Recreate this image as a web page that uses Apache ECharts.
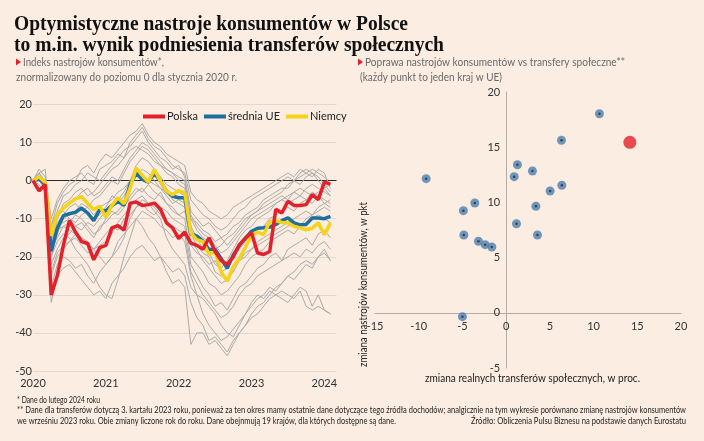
<!DOCTYPE html>
<html><head><meta charset="utf-8">
<script src="https://cdn.jsdelivr.net/npm/echarts/dist/echarts.min.js"></script>
<style>html,body{margin:0;padding:0;background:#fbede1}#c{width:704px;height:441px}</style>
</head><body><div id="c"></div>
<script>
// ---- left chart data: monthly index, Jan 2020 = index 0 ----
const yearLabels = ['2020','2021','2022','2023','2024'];
const polska = [0,-2.7,-1,-30,-25,-17,-10.5,-13.5,-16,-16.5, -20.8,-17.6,-17,-12.4,-11.8,-13,-5.9,-5.6,-6.5,-6.3, -5.9,-7.5,-11.1,-12.4,-15.2,-13.5,-16.4,-17,-18,-15, -18.6,-21,-22,-20,-16.8,-15.1,-13.7,-19,-19.4,-18.6, -7.5,-8.5,-5.4,-6.5,-6.5,-6.3,-3.7,-5,-0.4,-0.9];
const sredniaUE = [0,0.5,-1,-18.5,-12.5,-9.2,-8.7,-8.3,-7.2,-8.5, -10.5,-7.6,-8,-6.5,-5.4,-6.5,-1,2,0.3,-0.4, 2,-0.2,-2.8,-4.1,-4.5,-4.5,-14,-14.6,-15.9,-18.1, -18.1,-20.5,-23,-19.5,-17,-15.1,-13.3,-12.5,-12.4,-12.2, -11.5,-10.5,-9.8,-11.1,-11.6,-11.5,-9.8,-9.8,-10,-9.4];
const niemcy = [0,1,-0.5,-14.5,-8.9,-7.2,-5.9,-4.8,-4.2,-6, -7.6,-6.7,-9.6,-6.5,-4.5,-6.1,-2,3.3,1.4,-0.4, 2.9,-0.2,-2.8,-3.7,-2.6,-3.2,-13.7,-15.5,-16,-19.4, -18.6,-24,-26.4,-22.5,-20.5,-17.5,-14.2,-13.5,-14.2,-10.8, -10.5,-11,-11.1,-12,-12.4,-12.9,-12.5,-11.1,-14.2,-11.1];
const inneKraje = [
 [0,3,1,-10,-5,-2,0,1,2,0, -1,3,4,5,7,6,10,12,14,11, 9,8,6,4,3,2,-5,-7,-9,-10, -12,-13,-12,-10,-8,-7,-5,-4,-3,-2, -1,0,1,0,1,2,3,2,1,-1],
 [0,2,0,-12,-8,-4,-3,-1,0,2, 1,0,2,4,6,8,9,11,13,10, 8,6,5,3,4,1,-8,-10,-12,-11, -13,-15,-14,-12,-11,-9,-8,-7,-5,-4, -3,-2,-2,0,2,3,2,1,-1,-3],
 [0,1,-1,-15,-10,-6,-5,-3,-2,-4, -3,-1,1,3,4,6,8,9,8,7, 5,4,3,2,1,0,-10,-13,-15,-16, -18,-17,-15,-14,-12,-10,-9,-8,-7,-6, -5,-4,-5,-3,-2,-3,-4,-3,-2,-4],
 [0,0,-2,-20,-14,-10,-9,-8,-6,-7, -9,-7,-6,-5,-3,-2,0,2,1,0, -1,-2,-3,-5,-6,-7,-17,-19,-20,-22, -21,-24,-23,-20,-18,-16,-14,-13,-12,-10, -9,-8,-7,-8,-6,-5,-6,-4,-5,-6],
 [0,1,0,-17,-12,-11,-10,-12,-13,-11, -12,-10,-8,-7,-6,-4,-1,1,3,2, 0,-2,-4,-6,-5,-6,-14,-17,-19,-20, -24,-25,-26,-24,-21,-19,-18,-17,-16,-15, -14,-13,-12,-11,-12,-10,-9,-8,-7,-8],
 [0,0,-1,-22,-18,-15,-14,-12,-11,-13, -15,-12,-11,-9,-8,-6,-5,-3,-2,-4, -5,-3,-6,-8,-9,-10,-20,-22,-24,-27, -28,-30,-29,-27,-25,-22,-20,-19,-18,-16, -15,-14,-13,-14,-12,-11,-10,-9,-10,-11],
 [0,2,-1,-13,-9,-8,-10,-11,-9,-8, -10,-9,-7,-4,-5,-3,0,4,6,5, 3,1,-1,-2,-3,-4,-12,-15,-18,-19, -22,-23,-21,-18,-15,-13,-12,-10,-9,-8, -6,-5,-6,-5,-4,-5,-3,-4,-6,-5],
 [0,-1,-3,-25,-20,-18,-16,-15,-17,-19, -18,-16,-14,-12,-13,-10,-9,-7,-6,-8, -9,-7,-8,-10,-11,-12,-22,-25,-28,-30, -33,-32,-34,-31,-28,-27,-25,-23,-22,-20, -19,-21,-18,-17,-16,-15,-17,-14,-13,-15],
 [0,0,-2,-28,-22,-20,-21,-23,-22,-25, -27,-24,-22,-20,-16,-14,-12,-10,-8,-9, -10,-12,-13,-15,-14,-16,-25,-30,-35,-38, -40,-42,-41,-39,-37,-35,-33,-31,-30,-28, -29,-27,-25,-24,-22,-21,-22,-20,-18,-21],
 [0,1,-1,-32,-25,-23,-22,-24,-26,-28, -30,-29,-31,-27,-25,-23,-20,-18,-17,-19, -21,-20,-22,-24,-23,-25,-32,-36,-38,-42, -41,-43,-45,-42,-40,-38,-36,-35,-33,-31, -30,-29,-30,-31,-29,-33,-34,-33,-34,-35],
 [0,0,-1,-18,-15,-12,-13,-14,-15,-17, -18,-20,-22,-20,-18,-15,-10,-7,-5,-6, -8,-10,-15,-18,-20,-22,-28,-30,-31,-33, -35,-38,-40,-41,-38,-35,-32,-30,-31,-29, -30,-31,-32,-30,-28,-29,-33,-30,-34,-35],
 [0,0,-1,-20,-16,-14,-15,-18,-20,-22, -25,-28,-30,-31,-26,-20,-15,-10,-12,-15, -17,-20,-24,-27,-26,-28,-43,-40,-40,-43, -42,-44,-46,-43,-40,-38,-35,-33,-32,-30, -28,-27,-25,-26,-24,-22,-23,-20,-19,-21],
 [0,2,3,-12,-6,-3,-1,0,3,4, 2,5,7,6,8,10,12,13,15,12, 10,9,7,6,5,4,-3,-5,-6,-8, -9,-10,-9,-7,-6,-5,-4,-3,-2,-1, 0,1,2,1,3,2,1,3,2,-2],
 [0,1,0,-16,-11,-9,-7,-6,-8,-7, -5,-4,-2,0,-1,2,5,7,9,8, 6,4,2,1,-1,-2,-9,-12,-14,-15, -17,-19,-18,-16,-14,-12,-10,-9,-8,-7, -6,-5,-4,-3,-4,-2,-1,-2,-3,-4],
 [0,0,-2,-19,-13,-12,-11,-9,-10,-12, -14,-13,-10,-8,-9,-7,-4,-2,-3,-1, -3,-4,-6,-7,-9,-8,-16,-18,-21,-23, -25,-27,-26,-23,-21,-20,-18,-16,-15,-14, -13,-12,-11,-10,-9,-8,-9,-7,-6,-7],
 [0,1,-1,-14,-10,-7,-6,-5,-3,-2, -4,-3,-1,1,0,3,6,8,10,9, 7,5,3,2,0,-1,-10,-11,-13,-14, -16,-15,-17,-15,-13,-11,-9,-8,-6,-5, -4,-3,-1,0,-1,1,2,0,-2,-1],
 [0,0,-1,-24,-19,-17,-16,-14,-15,-16, -18,-17,-16,-14,-11,-9,-7,-5,-4,-6, -7,-9,-11,-12,-13,-14,-24,-27,-30,-32, -34,-36,-35,-33,-30,-28,-27,-25,-24,-23, -22,-21,-20,-19,-20,-18,-19,-17,-16,-18]
];
// ---- right chart data: one point per EU country ----
const transfery = [10.67,6.33,-9.15,1.29,3.01,0.92,5.03,6.37,-4.89,-3.58,3.40,1.18,-4.84,-3.17,-2.40,-1.64,3.58,-5.0];
const nastroje  = [18.03,15.63,12.15,13.41,12.84,12.33,11.03,11.55,9.25,9.95,9.65,8.07,7.05,6.48,6.17,5.96,7.05,-0.35];
const polskaTransfery = 14.15, polskaNastroje = 15.44;

const RED='#e3202b', BLUE='#1d6f9f', YELLOW='#f6d21a', GREY='#ababab';
const chart = echarts.init(document.getElementById('c'));
const mctx = document.createElement('canvas').getContext('2d');
function fitText(text, x, y, size, family, weight, width, color, extra) {
  const font = weight + ' ' + size + 'px ' + family;
  mctx.font = font;
  const w = mctx.measureText(text).width;
  return Object.assign({type:'text', x:x, y:y, scaleX: width / w, silent:true, z:100,
    style:{text:text, font:font, fill:color, align:'left', verticalAlign:'middle'}}, extra || {});
}
const toPts = arr => arr.map((v,i)=>[i,v]);
const series = [];
inneKraje.forEach((a,k)=>series.push({type:'line', xAxisIndex:0, yAxisIndex:0, data:toPts(a), showSymbol:false, silent:true,
  lineStyle:{color:GREY, width:1}, z:1}));
series.push({name:'średnia UE', type:'line', data:toPts(sredniaUE), showSymbol:false, lineStyle:{color:BLUE,width:3.5}, itemStyle:{color:BLUE}, z:3});
series.push({name:'Niemcy', type:'line', data:toPts(niemcy), showSymbol:false, lineStyle:{color:YELLOW,width:3.5}, itemStyle:{color:YELLOW}, z:4});
series.push({name:'Polska', type:'line', data:toPts(polska), showSymbol:false, lineStyle:{color:RED,width:3.5}, itemStyle:{color:RED}, z:5});
series.push({type:'scatter', xAxisIndex:1, yAxisIndex:1, data:transfery.map((x,i)=>[x,nastroje[i]]), symbolSize:9, itemStyle:{color:'#4f7eac'}, z:6});
series.push({type:'scatter', xAxisIndex:1, yAxisIndex:1, data:transfery.map((x,i)=>[x,nastroje[i]]), symbolSize:2.5, itemStyle:{color:'#16324f'}, z:7});
series.push({type:'scatter', xAxisIndex:1, yAxisIndex:1, data:[[polskaTransfery,polskaNastroje]], symbolSize:13, itemStyle:{color:RED}, z:8});

const splitColors = ['#e3d8cc','#e3d8cc','#e3d8cc','#e3d8cc','#e3d8cc','#2a2a2a','#e3d8cc','#e3d8cc'];
const lab = {fontFamily:'Lato', fontSize:11, color:'#333'};
const tri = (x,y)=>({type:'polygon', silent:true, shape:{points:[[x,y-3.5],[x+5,y],[x,y+3.5]]}, style:{fill:RED}});

// right grid and the offsets that put both axes through zero
const g2 = {left:375, top:92, width:306, height:276};
const rx = {min:-15, max:20}, ry = {min:-5, max:20};
const xOff = -((0 - ry.min) / (ry.max - ry.min)) * g2.height;
const yOff = -((0 - rx.min) / (rx.max - rx.min)) * g2.width;

chart.setOption({
  animation:false,
  backgroundColor:'#fbede1',
  legend:{data:['Polska','średnia UE','Niemcy'], left:143, top:111, padding:0, itemWidth:22, itemHeight:4, itemGap:6, icon:'rect',
    textStyle:{fontFamily:'Lato', fontSize:11, color:'#222', padding:[0,0,0,-3]}},
  grid:[{left:33, top:104.5, width:303.5, height:266.5}, g2],
  xAxis:[
    {gridIndex:0, type:'value', min:0, max:50, interval:12, axisLine:{show:false}, axisTick:{show:false}, splitLine:{show:false},
     axisLabel:Object.assign({margin:7, formatter:v=> (v%12===0 ? yearLabels[v/12] : '')}, lab)},
    {gridIndex:1, type:'value', min:rx.min, max:rx.max, interval:5, position:'bottom', offset:xOff,
     axisLine:{onZero:false, lineStyle:{color:'#b5aca4'}}, axisTick:{show:false}, splitLine:{show:false},
     axisLabel:Object.assign({margin:8, showMinLabel:true, showMaxLabel:true}, lab)}
  ],
  yAxis:[
    {gridIndex:0, type:'value', min:-50, max:20, interval:10, axisLine:{show:false}, axisTick:{show:false},
     splitLine:{lineStyle:{color:splitColors, width:1}}, axisLabel:Object.assign({margin:1, padding:[0,0,6,0]}, lab)},
    {gridIndex:1, type:'value', min:ry.min, max:ry.max, interval:5, position:'left', offset:yOff,
     axisLine:{onZero:false, lineStyle:{color:'#b5aca4'}}, axisTick:{show:false}, splitLine:{show:false},
     axisLabel:Object.assign({margin:6}, lab)}
  ],
  series:series,
  graphic:[
    fitText('Optymistyczne nastroje konsumentów w Polsce', 14, 25, 20, '"Liberation Serif"', 'bold', 394, '#111'),
    fitText('to m.in. wynik podniesienia transferów społecznych', 14, 46, 20, '"Liberation Serif"', 'bold', 430, '#111'),
    tri(16,62),
    fitText('Indeks nastrojów konsumentów*,', 23, 62, 11, 'Lato', 'normal', 141, '#6a6a6a'),
    fitText('znormalizowany do poziomu 0 dla stycznia 2020 r.', 16, 77, 11, 'Lato', 'normal', 221, '#6a6a6a'),
    tri(358,62),
    fitText('Poprawa nastrojów konsumentów vs transfery społeczne**', 365, 62, 11, 'Lato', 'normal', 260, '#6a6a6a'),
    fitText('(każdy punkt to jeden kraj w UE)', 360, 77, 11, 'Lato', 'normal', 142, '#6a6a6a'),
    fitText('zmiana realnych transferów społecznych, w proc.', 425, 378, 11, 'Lato', 'normal', 215, '#222'),
    fitText('zmiana nastrojów konsumentów, w pkt', 363, 367, 11, 'Lato', 'normal', 165, '#222', {rotation:Math.PI/2}),
    fitText('* Dane do lutego 2024 roku', 17, 400, 9, 'Lato', 'normal', 83, '#222'),
    fitText('** Dane dla transferów dotyczą 3. kartału 2023 roku, ponieważ za ten okres mamy ostatnie dane dotyczące tego źródła dochodów; analgicznie na tym wykresie porównano zmianę nastrojów konsumentów', 17, 410.5, 9, 'Lato', 'normal', 669, '#222'),
    fitText('we wrześniu 2023 roku. Obie zmiany liczone rok do roku. Dane obejnmują 19 krajów, dla których dostępne są dane.', 17, 421, 9, 'Lato', 'normal', 379, '#222'),
    fitText('Źródło: Obliczenia Pulsu Biznesu na podstawie danych Eurostatu', 471, 421, 9, 'Lato', 'normal', 215, '#222')
  ]
});
</script></body></html>
